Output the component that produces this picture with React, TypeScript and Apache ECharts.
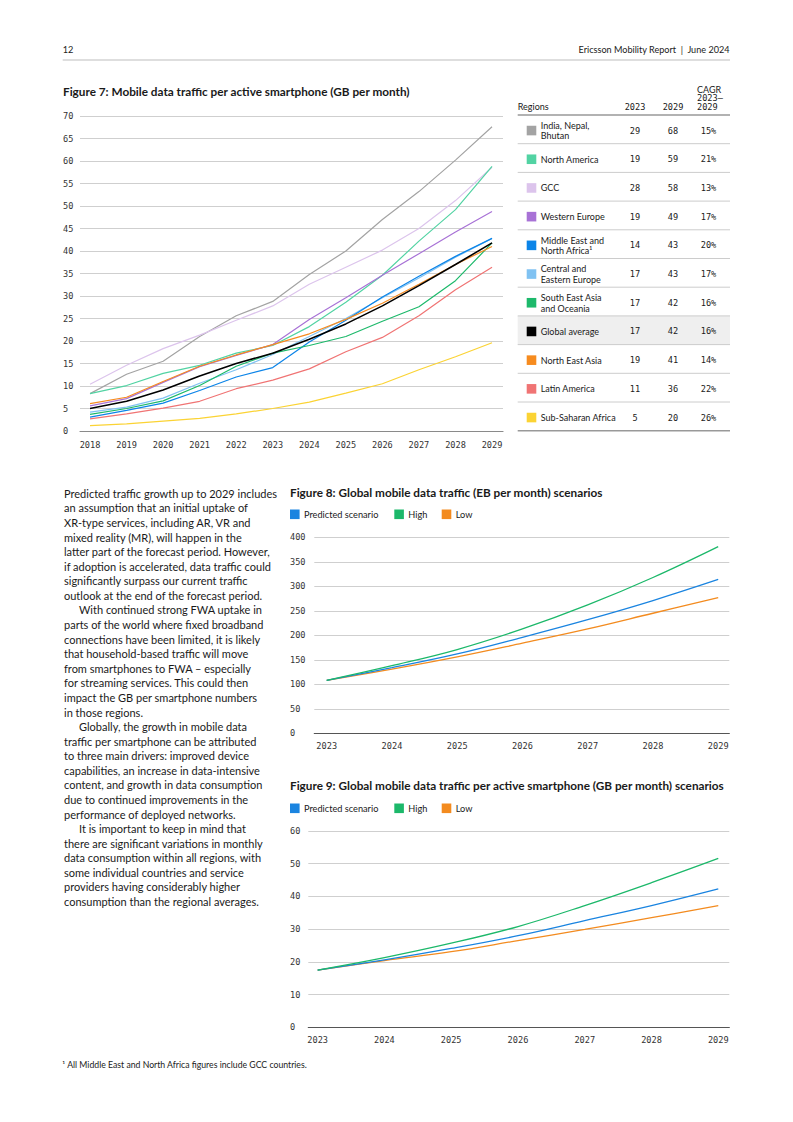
import React, { useEffect, useRef } from "react";
import * as echarts from "echarts";

// ---------- Figure 7 data ----------
const years7 = [2018, 2019, 2020, 2021, 2022, 2023, 2024, 2025, 2026, 2027, 2028, 2029];
const india = [8.3, 12.6, 15.5, 21.0, 25.6, 28.8, 34.8, 40.0, 47.0, 53.2, 60.2, 67.6];
const northAmerica = [8.3, 10.1, 12.8, 14.6, 17.3, 19.0, 23.2, 28.6, 34.6, 42.2, 49.2, 58.8];
const gcc = [10.4, 14.6, 18.3, 21.3, 24.6, 27.8, 32.6, 36.4, 40.2, 45.0, 51.2, 58.6];
const westernEurope = [5.6, 7.2, 10.8, 14.3, 16.8, 19.2, 24.8, 29.6, 34.6, 39.4, 44.2, 48.8];
const mena = [3.1, 4.6, 6.2, 9.0, 12.0, 14.1, 19.8, 24.6, 29.8, 34.4, 38.8, 42.8];
const cee = [4.2, 5.3, 7.3, 10.6, 13.6, 17.0, 21.0, 25.0, 29.6, 34.0, 38.6, 42.8];
const seAsia = [3.7, 5.0, 6.7, 10.1, 14.4, 17.3, 19.0, 21.0, 24.4, 27.6, 33.4, 41.8];
const globalAvg = [5.0, 6.6, 9.1, 12.2, 15.0, 17.3, 20.4, 23.8, 27.8, 32.3, 37.0, 41.8];
const neAsia = [6.1, 7.5, 11.0, 14.4, 16.9, 19.2, 21.6, 24.8, 28.4, 32.6, 37.0, 41.0];
const latinAmerica = [2.7, 3.8, 5.1, 6.6, 9.4, 11.3, 13.8, 17.6, 20.8, 25.6, 31.4, 36.4];
const ssa = [1.2, 1.6, 2.2, 2.8, 3.8, 5.0, 6.4, 8.4, 10.5, 13.6, 16.5, 19.6];

// table (same order as the table rows)
const regions = [
  "India, Nepal,\nBhutan",
  "North America",
  "GCC",
  "Western Europe",
  "Middle East and\nNorth Africa¹",
  "Central and\nEastern Europe",
  "South East Asia\nand Oceania",
  "Global average",
  "North East Asia",
  "Latin America",
  "Sub-Saharan Africa",
];
const regionSeries = [india, northAmerica, gcc, westernEurope, mena, cee, seAsia, globalAvg, neAsia, latinAmerica, ssa];
const value2023 = [29, 19, 28, 19, 14, 17, 17, 17, 19, 11, 5];
const value2029 = [68, 59, 58, 49, 43, 43, 42, 42, 41, 36, 20];
const cagr = ["15%", "21%", "13%", "17%", "20%", "17%", "16%", "16%", "14%", "22%", "26%"];
const regionColors = ["#a3a3a3", "#52d3a3", "#dcc4ec", "#a872d6", "#0b84e8", "#80c2f2", "#1db96b", "#000000", "#f68b1f", "#f07474", "#fbd334"];

// ---------- Figure 8 / 9 data ----------
const years89 = [2023, 2024, 2025, 2026, 2027, 2028, 2029];
const scenarioNames = ["Predicted scenario", "High", "Low"];
const predicted8 = [108, 134, 162, 196, 232, 271, 314];
const high8 = [108, 138, 171, 213, 262, 318, 381];
const low8 = [108, 131, 156, 184, 213, 245, 277];
const predicted9 = [17.5, 20.6, 24.1, 28.0, 32.6, 37.2, 42.3];
const high9 = [17.5, 21.3, 25.7, 30.8, 37.2, 44.2, 51.6];
const low9 = [17.5, 20.4, 23.1, 26.5, 29.9, 33.5, 37.2];
const scenarioColors = ["#1a84e0", "#1cb86a", "#f38b1f"];

const bodyLines = [
  "Predicted traffic growth up to 2029 includes",
  "an assumption that an initial uptake of",
  "XR-type services, including AR, VR and",
  "mixed reality (MR), will happen in the",
  "latter part of the forecast period. However,",
  "if adoption is accelerated, data traffic could",
  "significantly surpass our current traffic",
  "outlook at the end of the forecast period.",
  "\tWith continued strong FWA uptake in",
  "parts of the world where fixed broadband",
  "connections have been limited, it is likely",
  "that household-based traffic will move",
  "from smartphones to FWA – especially",
  "for streaming services. This could then",
  "impact the GB per smartphone numbers",
  "in those regions.",
  "\tGlobally, the growth in mobile data",
  "traffic per smartphone can be attributed",
  "to three main drivers: improved device",
  "capabilities, an increase in data-intensive",
  "content, and growth in data consumption",
  "due to continued improvements in the",
  "performance of deployed networks.",
  "\tIt is important to keep in mind that",
  "there are significant variations in monthly",
  "data consumption within all regions, with",
  "some individual countries and service",
  "providers having considerably higher",
  "consumption than the regional averages.",
];

const SANS = "Lato, 'Noto Sans', sans-serif";
const MONO = "'DejaVu Sans Mono', monospace";
const TXT = "#1a1a1a";

function txt(x: number, y: number, text: string, opts: any = {}) {
  return {
    type: "text",
    x,
    y,
    silent: true,
    style: {
      text,
      fill: opts.fill || TXT,
      fontSize: opts.fontSize || 9,
      fontFamily: opts.fontFamily || SANS,
      fontWeight: opts.fontWeight || "normal",
      align: opts.align || "left",
      verticalAlign: "middle",
      lineHeight: opts.lineHeight || 10,
    },
  };
}
function hline(x1: number, x2: number, y: number, stroke: string, lineWidth = 1) {
  return { type: "line", silent: true, shape: { x1, y1: y, x2, y2: y }, style: { stroke, lineWidth } };
}
function rect(x: number, y: number, w: number, h: number, fill: string) {
  return { type: "rect", silent: true, shape: { x, y, width: w, height: h }, style: { fill } };
}

function buildGraphic() {
  const g: any[] = [];
  // page header
  g.push(txt(62.7, 49, "12", { fontSize: 9.2 }));
  g.push(txt(729.5, 49, "Ericsson Mobility Report  |  June 2024", { fontSize: 9.1, align: "right" }));
  g.push(hline(62.7, 730, 60, "#bdbdbd", 1));

  // titles
  const TF = 11.75;
  g.push(txt(63, 91.7, "Figure 7: Mobile data traffic per active smartphone (GB per month)", { fontSize: TF, fontWeight: "bold" }));
  g.push(txt(290, 492.3, "Figure 8: Global mobile data traffic (EB per month) scenarios", { fontSize: TF, fontWeight: "bold" }));
  g.push(txt(290, 785, "Figure 9: Global mobile data traffic per active smartphone (GB per month) scenarios", { fontSize: TF, fontWeight: "bold" }));

  // table
  const tL = 517.7, tR = 730, tTop = 115, rowH = 28.7;
  g.push(rect(tL, tTop + rowH * 7, tR - tL, rowH, "#efefef"));
  g.push(txt(tL, 106.7, "Regions", { fontSize: 9 }));
  g.push(txt(635, 106.7, "2023", { fontSize: 8.6, fontFamily: MONO, align: "center" }));
  g.push(txt(673, 106.7, "2029", { fontSize: 8.6, fontFamily: MONO, align: "center" }));
  g.push(txt(697, 89, "CAGR", { fontSize: 9 }));
  g.push(txt(697, 98, "2023–", { fontSize: 8.6, fontFamily: MONO }));
  g.push(txt(697, 106.7, "2029", { fontSize: 8.6, fontFamily: MONO }));
  for (let i = 0; i < regions.length; i++) {
    const cy = tTop + rowH * (i + 0.5) + 1.2;
    g.push(rect(526.7, cy - 4.8, 9.6, 9.6, regionColors[i]));
    g.push(txt(540.7, cy, regions[i], { fontSize: 9, lineHeight: 10.5 }));
    g.push(txt(635, cy, String(value2023[i]), { fontSize: 8.6, fontFamily: MONO, align: "center" }));
    g.push(txt(673, cy, String(value2029[i]), { fontSize: 8.6, fontFamily: MONO, align: "center" }));
    g.push(txt(708.5, cy, cagr[i], { fontSize: 8.6, fontFamily: MONO, align: "center" }));
    if (i > 0) g.push(hline(tL, tR, tTop + rowH * i, "#cccccc", 1));
  }
  g.push(hline(tL, tR, tTop, "#999999", 1.5));
  g.push(hline(tL, tR, tTop + rowH * regions.length, "#999999", 1.5));

  // body text
  const lh = 14.58;
  bodyLines.forEach((line, i) => {
    const indent = line.startsWith("\t");
    g.push(txt(indent ? 79 : 64, 493.3 + lh * i, indent ? line.slice(1) : line, { fontSize: 11 }));
  });

  // legends for figures 8 and 9
  const legX = [290, 394.3, 441.7];
  [514.3, 808.3].forEach((ly) => {
    scenarioNames.forEach((name, k) => {
      g.push(rect(legX[k], ly - 4.8, 9.6, 9.6, scenarioColors[k]));
      g.push(txt(legX[k] + 14, ly, name, { fontSize: 9.2 }));
    });
  });

  // footnote
  g.push(txt(62.3, 1064.3, "¹ All Middle East and North Africa figures include GCC countries.", { fontSize: 8.7 }));
  return g;
}

function yAxisCfg(gridIndex: number, max: number, interval: number, margin: number) {
  return {
    gridIndex,
    type: "value",
    min: 0,
    max,
    interval,
    axisLine: { show: false },
    axisTick: { show: false },
    splitLine: { show: true, lineStyle: { color: "#cfcfcf", width: 1 } },
    axisLabel: { align: "left", margin, fontFamily: MONO, fontSize: 8.6, color: "#333" },
  };
}
function xAxisCfg(gridIndex: number, min: number, max: number, ticks: number[], margin: number, lineColor: string) {
  return {
    gridIndex,
    type: "value",
    min,
    max,
    axisLine: { show: true, onZero: false, lineStyle: { color: lineColor, width: 1.2 } },
    axisTick: { show: false },
    splitLine: { show: false },
    axisLabel: {
      customValues: ticks,
      formatter: (v: number) => String(v),
      margin,
      fontFamily: MONO,
      fontSize: 8.6,
      color: "#333",
      showMinLabel: true,
      showMaxLabel: true,
    },
  };
}

// drawing order: black global average on top
const drawOrder = [0, 2, 1, 3, 5, 4, 6, 8, 9, 10, 7];

export default function App() {
  const ref = useRef<HTMLDivElement>(null);
  useEffect(() => {
    if (!ref.current) return;
    const chart = echarts.init(ref.current, null, { renderer: "svg" });
    const series: any[] = [];
    drawOrder.forEach((idx, z) => {
      const vals = regionSeries[idx];
      series.push({
        type: "line",
        name: regions[idx].replace("\n", " "),
        xAxisIndex: 0,
        yAxisIndex: 0,
        data: years7.map((y, i) => [y, vals[i]]),
        symbol: "none",
        smooth: false,
        color: regionColors[idx],
        lineStyle: { color: regionColors[idx], width: idx === 7 ? 1.6 : 1.2 },
        z: 2 + z,
      });
    });
    const s8 = [predicted8, high8, low8];
    const s9 = [predicted9, high9, low9];
    [2, 0, 1].forEach((k) => {
      series.push({
        type: "line",
        name: scenarioNames[k],
        xAxisIndex: 1,
        yAxisIndex: 1,
        data: years89.map((y, i) => [y, s8[k][i]]),
        symbol: "none",
        smooth: 0.4,
        color: scenarioColors[k],
        lineStyle: { color: scenarioColors[k], width: 1.3 },
      });
      series.push({
        type: "line",
        name: scenarioNames[k],
        xAxisIndex: 2,
        yAxisIndex: 2,
        data: years89.map((y, i) => [y, s9[k][i]]),
        symbol: "none",
        smooth: 0.4,
        color: scenarioColors[k],
        lineStyle: { color: scenarioColors[k], width: 1.3 },
      });
    });

    chart.setOption({
      animation: false,
      backgroundColor: "#ffffff",
      grid: [
        { left: 80, top: 116, width: 423, height: 315 },
        { left: 314.3, top: 537.3, width: 415, height: 196 },
        { left: 308.3, top: 831, width: 421, height: 196.3 },
      ],
      xAxis: [
        xAxisCfg(0, 2017.726, 2029.3, years7, 9, "#8a8a8a"),
        xAxisCfg(1, 2022.81, 2029.17, years89, 8, "#555555"),
        xAxisCfg(2, 2022.86, 2029.165, years89, 8, "#555555"),
      ],
      yAxis: [yAxisCfg(0, 70, 5, 17), yAxisCfg(1, 400, 50, 24.3), yAxisCfg(2, 60, 10, 18.3)],
      series,
      graphic: buildGraphic(),
    });
    return () => chart.dispose();
  }, []);
  return (
    <div
      ref={ref}
      style={{ position: "absolute", left: 0, top: 0, width: 793, height: 1122, background: "#fff" }}
    />
  );
}
